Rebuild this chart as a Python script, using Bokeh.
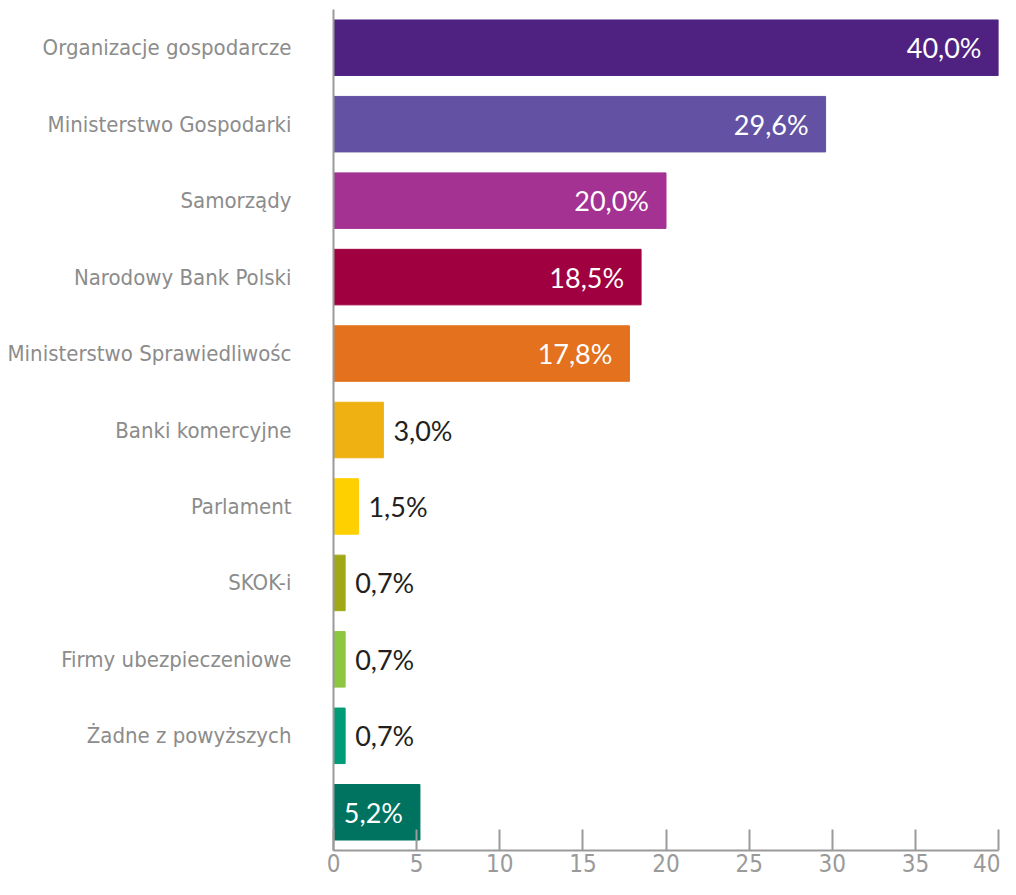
from bokeh.plotting import figure
from bokeh.models import FactorRange, FixedTicker, ColumnDataSource, Range1d
from bokeh.core.properties import value
from bokeh.embed import file_html
from bokeh.resources import INLINE

categories = ["Organizacje gospodarcze", "Ministerstwo Gospodarki", "Samorządy",
              "Narodowy Bank Polski", "Ministerstwo Sprawiedliwośc", "Banki komercyjne",
              "Parlament", "SKOK-i", "Firmy ubezpieczeniowe", "Żadne z powyższych", ""]
values = [40.0, 29.6, 20.0, 18.5, 17.8, 3.0, 1.5, 0.7, 0.7, 0.7, 5.2]
colors = ["#4F2282", "#6352A3", "#A33292", "#A0003F", "#E3711E", "#EEB111",
          "#FFD000", "#A1A816", "#8DC63F", "#009B77", "#007360"]
x_ticks = [0, 5, 10, 15, 20, 25, 30, 35, 40]

labels = [f"{v:.1f}".replace(".", ",") + "%" for v in values]

NARROW = "DejaVu Sans Condensed, Roboto"
LABEL_FONT = "Lato"

p = figure(width=1000, height=879, output_backend="svg", toolbar_location=None,
           y_range=FactorRange(factors=list(reversed(categories)), range_padding=0),
           x_range=Range1d(0, 40),
           min_border_left=333, min_border_right=2, min_border_top=9, min_border_bottom=29)

src = ColumnDataSource(dict(cat=categories, val=values, color=colors, label=labels))
p.hbar(y="cat", right="val", left=0, height=0.726, color="color", source=src)

ins = [i for i, v in enumerate(values) if v > 5]
outs = [i for i, v in enumerate(values) if v <= 5]
p.text(x=[values[i] for i in ins], y=[categories[i] for i in ins],
       text=[labels[i] for i in ins], text_align="right", text_baseline="middle",
       x_offset=-17, text_color="white", text_font_size="27px", text_font=value(LABEL_FONT))
p.text(x=[values[i] for i in outs], y=[categories[i] for i in outs],
       text=[labels[i] for i in outs], text_align="left", text_baseline="middle",
       x_offset=10, text_color="#231f20", text_font_size="27px", text_font=value(LABEL_FONT))

p.xgrid.visible = False
p.ygrid.visible = False
p.outline_line_color = None

xa = p.xaxis[0]
xa.ticker = FixedTicker(ticks=x_ticks)
xa.major_tick_in = 21
xa.major_tick_out = 0
xa.minor_tick_line_color = None
xa.axis_line_color = "#9a9a9a"
xa.axis_line_width = 2
xa.major_tick_line_color = "#9a9a9a"
xa.major_tick_line_width = 2
xa.major_label_text_color = "#9a9a9a"
xa.major_label_text_font = NARROW
xa.major_label_text_font_size = "24px"
xa.major_label_standoff = 3

ya = p.yaxis[0]
ya.major_tick_in = 0
ya.major_tick_out = 0
ya.axis_line_color = "#9a9a9a"
ya.axis_line_width = 2
ya.major_label_text_color = "#8c8c8c"
ya.major_label_text_font = NARROW
ya.major_label_text_font_size = "22px"
ya.major_label_standoff = 42

open("out.html", "w").write(file_html(p, INLINE))
